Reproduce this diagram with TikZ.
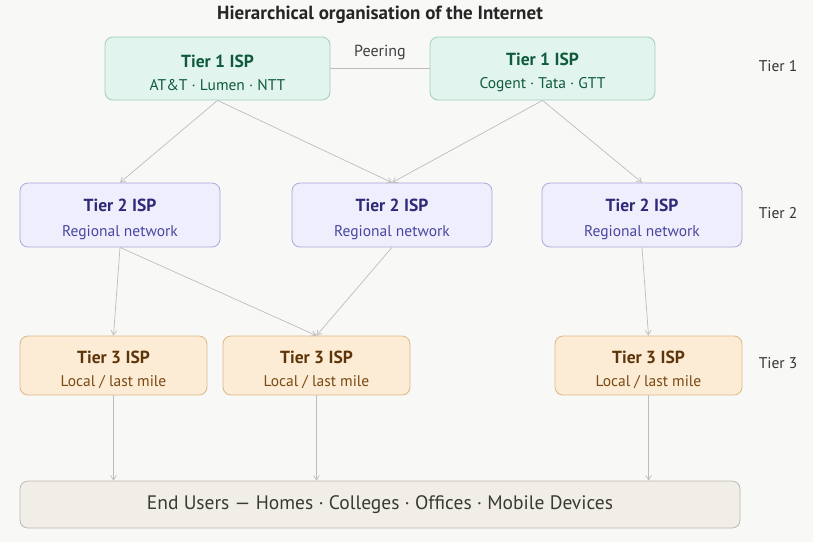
\documentclass[tikz,border=0pt]{standalone}
\usepackage{fontspec}
\setmainfont{PT Sans}
\usetikzlibrary{arrows.meta,positioning}
\definecolor{bgpaper}{HTML}{F8F8F6}
\definecolor{tonefill}{HTML}{E1F5EE}
\definecolor{tonedraw}{HTML}{9FCFBA}
\definecolor{tonetext}{HTML}{0F5A3C}
\definecolor{ttwofill}{HTML}{EEEEFC}
\definecolor{ttwodraw}{HTML}{ABA8DC}
\definecolor{ttwotext}{HTML}{2E2A78}
\definecolor{ttwosub}{HTML}{4A46A0}
\definecolor{tthrfill}{HTML}{FCEBD5}
\definecolor{tthrdraw}{HTML}{DDB886}
\definecolor{tthrtext}{HTML}{5E3508}
\definecolor{tthrsub}{HTML}{7A4A12}
\definecolor{usrfill}{HTML}{F1EEE8}
\definecolor{usrdraw}{HTML}{BDBAB3}
\definecolor{usrtext}{HTML}{3A3935}
\definecolor{linkgrey}{HTML}{BDBDBD}
\newcommand\ispsub{\fontsize{15.5}{18}\selectfont}
\newcommand\isphead[1]{\rule{0pt}{21pt}\textbf{#1}}
\tikzset{
  >={Straight Barb[length=1.6mm,width=2mm]},
  isp/.style={rectangle,rounded corners=8pt,line width=0.8pt,align=center,
              inner sep=0pt,font=\fontsize{17.5}{20}\selectfont},
  tone/.style={isp,fill=tonefill,draw=tonedraw,text=tonetext,
               minimum width=225pt,minimum height=63pt},
  ttwo/.style={isp,fill=ttwofill,draw=ttwodraw,text=ttwotext,
               minimum width=200pt,minimum height=64pt},
  tthr/.style={isp,fill=tthrfill,draw=tthrdraw,text=tthrtext,
               minimum width=187pt,minimum height=59pt},
  usr/.style={isp,fill=usrfill,draw=usrdraw,text=usrtext,
              minimum width=720pt,minimum height=47pt},
  link/.style={->,draw=linkgrey,line width=0.7pt},
  tierlbl/.style={font=\fontsize{15.5}{18}\selectfont,text=black!80},
}
\begin{document}
\begin{tikzpicture}[x=1pt,y=-1pt]
  \fill[bgpaper] (0,0) rectangle (813,542);
  \useasboundingbox (0,0) rectangle (813,542);
  \node[font=\bfseries\fontsize{19}{22}\selectfont,text=black!85] (title) at (380,15)
    {Hierarchical organisation of the Internet};
  % tier 1
  \node[tone] (ta) at (217.5,68.5)
    {\isphead{Tier 1 ISP}\\[3pt]{\ispsub AT\&T · Lumen · NTT}};
  \node[tone] (tb) at (542.5,68.5)
    {\isphead{Tier 1 ISP}\\[3pt]{\ispsub Cogent · Tata · GTT}};
  % tier 2
  \node[ttwo] (ra) at (120,215)
    {\isphead{Tier 2 ISP}\\[5pt]{\ispsub\color{ttwosub}Regional network}};
  \node[ttwo] (rb) at (392,215)
    {\isphead{Tier 2 ISP}\\[5pt]{\ispsub\color{ttwosub}Regional network}};
  \node[ttwo] (rc) at (642,215)
    {\isphead{Tier 2 ISP}\\[5pt]{\ispsub\color{ttwosub}Regional network}};
  % tier 3
  \node[tthr] (la) at (113.5,365.5)
    {\isphead{Tier 3 ISP}\\[3pt]{\ispsub\color{tthrsub}Local / last mile}};
  \node[tthr] (lb) at (316.5,365.5)
    {\isphead{Tier 3 ISP}\\[3pt]{\ispsub\color{tthrsub}Local / last mile}};
  \node[tthr] (lc) at (648.5,365.5)
    {\isphead{Tier 3 ISP}\\[3pt]{\ispsub\color{tthrsub}Local / last mile}};
  % end users
  \node[usr,font=\fontsize{19.5}{22}\selectfont] (eu) at (380,504.5)
    {End Users — Homes · Colleges · Offices · Mobile Devices};
  % tier labels
  \node[tierlbl] (lone) at (778,66) {Tier 1};
  \node[tierlbl] (ltwo) at (778,213) {Tier 2};
  \node[tierlbl] (lthr) at (778,363) {Tier 3};
  % links
  \draw[draw=linkgrey,line width=0.8pt] (ta) -- node[above=5pt,font=\fontsize{16}{18}\selectfont,text=black!75]{Peering} (tb);
  \draw[link] (ta.south) -- (ra.north);
  \draw[link] (ta.south) -- (rb.north);
  \draw[link] (tb.south) -- (rb.north);
  \draw[link] (tb.south) -- (rc.north);
  \draw[link] (ra.south) -- (la.north);
  \draw[link] (ra.south) -- (lb.north);
  \draw[link] (rb.south) -- (lb.north);
  \draw[link] (rc.south) -- (lc.north);
  \draw[link] (la.south) -- (la.south |- eu.north);
  \draw[link] (lb.south) -- (lb.south |- eu.north);
  \draw[link] (lc.south) -- (lc.south |- eu.north);
\end{tikzpicture}
\end{document}
